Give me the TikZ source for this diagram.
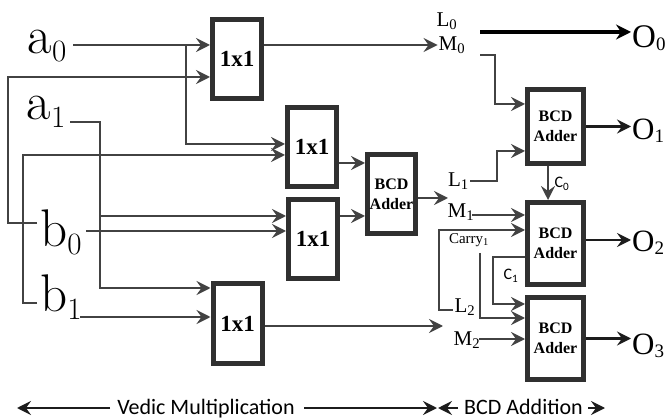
\documentclass[tikz,border=0pt]{standalone}
\usepackage{fontspec}
\newfontfamily\tnr{Liberation Serif}
\newfontfamily\calf{Carlito}
\usetikzlibrary{arrows.meta}
\definecolor{linec}{RGB}{66,66,66}
\definecolor{boxc}{RGB}{48,48,48}
\definecolor{outc}{RGB}{28,28,28}
\newcommand\biglab[2]{{\fontsize{53}{53}\selectfont #1\raisebox{-8pt}{\fontsize{31}{31}\selectfont #2}}}
\newcommand\olab[2]{{\tnr\fontsize{#2}{#2}\selectfont O\raisebox{-3pt}{\fontsize{19}{19}\selectfont #1}}}
\begin{document}
\begin{tikzpicture}[x=1pt,y=-1pt,
  tip/.style={-{Stealth[length=14pt,width=14pt,inset=5pt]}},
  conn/.style={draw=linec,line width=2.2pt,tip},
  outarr/.style={draw=outc,line width=2.5pt,tip},
  outthick/.style={draw=black,line width=3.5pt,-{Stealth[length=15pt,width=15pt,inset=5pt]}},
  barr/.style={draw=outc,line width=2.5pt,-{Stealth[length=14pt,width=14pt,inset=5pt]}},
  mbox/.style={draw=boxc,line width=5pt,minimum width=49pt,minimum height=79pt,inner sep=0pt,fill=white,
    font=\tnr\bfseries\fontsize{23}{23}\selectfont},
  abox/.style={draw=boxc,line width=5pt,minimum width=56pt,minimum height=82pt,inner sep=0pt,fill=white,align=center,
    font=\tnr\bfseries\fontsize{16}{20}\selectfont},
  lab/.style={inner sep=1pt,font=\tnr\fontsize{21}{21}\selectfont},
  small/.style={inner sep=0pt,font=\tnr\fontsize{15}{15}\selectfont},
  csans/.style={inner sep=0pt,font=\calf\fontsize{16}{16}\selectfont},
  olabel/.style={anchor=base west,inner sep=1pt},
  bottomtext/.style={inner sep=0pt,anchor=base,font=\calf\fontsize{22}{22}\selectfont}
]
\useasboundingbox (0,0) rectangle (666,419);

% input labels
\node[inner sep=0pt] (a0) at (47,46) {\biglab{a}{0}};
\node[inner sep=0pt] (a1) at (46,112) {\biglab{a}{1}};
\node[inner sep=0pt] (b0) at (61,232) {\biglab{b}{0}};
\node[inner sep=0pt] (b1) at (61,297) {\biglab{b}{1}};

% multiplier boxes
\node[mbox] (m1) at (237,59) {1x1};
\node[mbox] (m2) at (312,147) {1x1};
\node[mbox] (m3) at (313,239) {1x1};
\node[mbox] (m4) at (237.5,323.5) {1x1};

% adders
\node[abox,minimum width=48pt,minimum height=79pt] (A1) at (391.5,194) {BCD\\Adder};
\node[abox,minimum height=74pt] (A2) at (555.5,126.5) {BCD\\Adder};
\node[abox] (A3) at (555.5,243.5) {BCD\\Adder};
\node[abox] (A4) at (555.5,338.5) {BCD\\Adder};

% middle labels
\node[lab] (L0) at (447,21) {L\textsubscript{0}};
\node[lab] (M0) at (452,45) {M\textsubscript{0}};
\node[lab,anchor=east] (L1) at (470,181) {L\textsubscript{1}};
\node[lab] (M1) at (461,212) {M\textsubscript{1}};
\node[small] (carry) at (469,240) {Carry\textsubscript{1}};
\node[lab] (L2) at (465,307) {L\textsubscript{2}};
\node[lab] (M2) at (467,340) {M\textsubscript{2}};
\node[csans] (C0) at (562,184) {C\textsubscript{0}};
\node[csans] (C1) at (511,276) {C\textsubscript{1}};

% outputs
\node[olabel] (O0) at (631,48) {\olab{0}{33}};
\node[olabel] (O1) at (631,140) {\olab{1}{31}};
\node[olabel] (O2) at (631,252) {\olab{2}{31}};
\node[olabel] (O3) at (631,354) {\olab{3}{31}};

% left wiring
\coordinate (pa0) at (73,45);
\draw[conn] (pa0) -- (pa0 -| m1.west);
\coordinate (j1) at (186,45);
\draw[conn] (j1) |- ([yshift=3pt]m2.west);
\coordinate (pb0w) at (37,223);
\draw[conn] (pb0w) -- ++(-29,0) |- ([yshift=-18pt]m1.west);
\coordinate (pb1w) at (37,303);
\draw[conn] (pb1w) -- ++(-14,0) |- ([yshift=-8pt]m2.west);
\coordinate (pa1) at (70,122);
\draw[conn] (pa1) -- ++(30,0) |- ([yshift=35.5pt]m4.west);
\coordinate (j2) at (100,216);
\draw[conn] (j2) -- (j2 -| m3.west);
\coordinate (pb0e) at (86,231);
\draw[conn] (pb0e) -- (pb0e -| m3.west);
\coordinate (pb1e) at (80,317);
\draw[conn] (pb1e) -- (pb1e -| m4.west);

% multiplier outputs
\draw[conn] ([yshift=14pt]m1.east) -- (M0.west);
\draw[conn] ([yshift=-16pt]m2.east) -- ([yshift=-16pt]m2.east -| A1.west);
\draw[conn] ([yshift=23pt]m3.east) -- ([yshift=23pt]m3.east -| A1.west);
\coordinate (tM1) at (448,198);
\draw[conn] (A1.east |- tM1) -- (tM1);
\coordinate (t4) at (443,326);
\draw[conn] (m4.east |- t4) -- (t4);

% BCD addition wiring
\coordinate (pm0) at (480,55);
\draw[conn] (pm0) -- ++(15,0) |- ([yshift=22.5pt]A2.west);
\draw[conn] (L1.east) -- ++(27,0) |- ([yshift=-24.5pt]A2.west);
\draw[conn] ([xshift=-7.5pt]A2.south) -- ([xshift=-7.5pt]A2.south |- A3.north);
\coordinate (pm1) at (472,215);
\draw[conn] (pm1) -- (pm1 -| A3.west);
\coordinate (pl2) at (453,310);
\draw[conn] (pl2) -- ++(-14,0) |- ([yshift=13.5pt]A3.west);
\coordinate (pc1) at (480,253);
\draw[conn] (pc1) |- ([yshift=20.5pt]A4.west);
\draw[conn] ([yshift=-13.5pt]A3.west) -- ++(-32,0) |- ([yshift=34.5pt]A4.west);
\coordinate (pm2) at (479,339);
\draw[conn] (pm2) -- (pm2 -| A4.west);

% output arrows
\coordinate (po0) at (480,32);
\draw[outthick] (po0) -- (po0 -| O0.west);
\draw[outarr] (A2.east) -- (A2.east -| O1.west);
\draw[outarr] ([yshift=3.5pt]A3.east) -- ([yshift=3.5pt]A3.east -| O2.west);
\draw[outarr] (A4.east) -- (A4.east -| O3.west);

% bottom
\node[bottomtext] (ved) at (206,414) {Vedic Multiplication};
\node[bottomtext] (bcd) at (523.5,414) {BCD Addition};
\coordinate (v1) at (110,408);
\coordinate (v2) at (17,408);
\coordinate (v3) at (304,408);
\coordinate (v4) at (437,408);
\coordinate (v5) at (458,408);
\coordinate (v6) at (438,408);
\coordinate (v7) at (588,408);
\coordinate (v8) at (605,408);
\draw[barr] (v1) -- (v2);
\draw[barr] (v3) -- (v4);
\draw[barr] (v5) -- (v6);
\draw[barr] (v7) -- (v8);
\end{tikzpicture}
\end{document}
